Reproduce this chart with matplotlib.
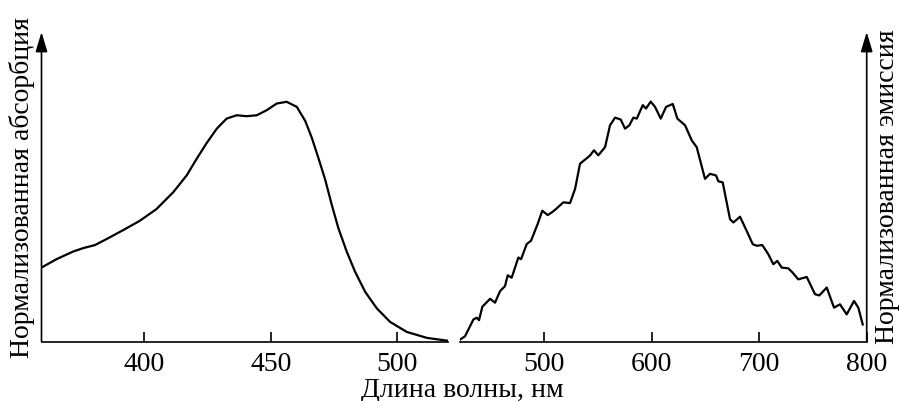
import numpy as np
import matplotlib
matplotlib.use("Agg")
import matplotlib.pyplot as plt

plt.rcParams.update({"font.family": ["Liberation Serif", "DejaVu Serif"], "font.size": 20})

# absorption (left panel), normalised
abs_nm = [360, 365.4, 372.0, 375.9, 380.6, 385.2, 391.7, 398.3, 404.9, 411.5, 416.8, 420.8,
          424.7, 428.7, 432.6, 436.6, 440.5, 444.5, 448.4, 452.4, 456.3, 460.3, 463.6, 466.2,
          468.8, 471.5, 474.1, 476.7, 480, 483.3, 487.3, 491.9, 497.1, 503.7, 511.7, 520]
abs_val = [0.311, 0.343, 0.375, 0.389, 0.402, 0.427, 0.464, 0.503, 0.552, 0.622, 0.692, 0.762,
           0.827, 0.887, 0.929, 0.943, 0.939, 0.943, 0.964, 0.992, 0.999, 0.978, 0.92, 0.85,
           0.766, 0.675, 0.57, 0.473, 0.375, 0.291, 0.207, 0.138, 0.082, 0.04, 0.015, 0.003]

# emission (right panel), normalised
em_nm = [421.6, 426.2, 429.3, 434, 437.1, 439.2, 442.3, 449.5, 454.1, 458.8, 463.4, 465.9,
         469.6, 475.8, 478.3, 483.6, 487.6, 493.8, 498.1, 503.1, 506.9, 510, 517.7, 523.9,
         528.6, 533.2, 542.5, 546.2, 550.2, 556.5, 561.1, 565.8, 571.1, 575.1, 579.1, 582.8,
         586, 591.6, 594.6, 599, 603, 608.3, 613.3, 619.5, 623.8, 631, 637.2, 641.8, 649.5,
         654.2, 659.8, 661.9, 666, 672.8, 675.9, 682.1, 688.3, 693.9, 697.6, 702.8, 708.4,
         713.1, 716.8, 720.9, 727, 731.1, 736.3, 744.2, 751.9, 755.9, 762.8, 769.6, 775.1,
         781.4, 788.2, 792.2, 796.3]
em_val = [0.008, 0.022, 0.05, 0.092, 0.099, 0.089, 0.145, 0.178, 0.162, 0.21, 0.231, 0.276,
          0.266, 0.35, 0.343, 0.406, 0.42, 0.49, 0.545, 0.527, 0.538, 0.549, 0.58, 0.577,
          0.636, 0.741, 0.775, 0.797, 0.776, 0.81, 0.901, 0.933, 0.925, 0.887, 0.901, 0.933,
          0.929, 0.985, 0.971, 1.0, 0.978, 0.929, 0.978, 0.99, 0.929, 0.901, 0.838, 0.81, 0.678,
          0.699, 0.692, 0.668, 0.663, 0.51, 0.496, 0.52, 0.461, 0.406, 0.399, 0.402, 0.364,
          0.322, 0.336, 0.308, 0.305, 0.287, 0.259, 0.269, 0.197, 0.192, 0.225, 0.141, 0.155,
          0.113, 0.169, 0.141, 0.071]

YTOP = 1.29
fig = plt.figure(figsize=(8.99, 4.02), dpi=100)
axL = fig.add_axes([41.5 / 899, 59.5 / 402, 407 / 899, 309.5 / 402])
axR = fig.add_axes([460 / 899, 59.5 / 402, 406.7 / 899, 309.5 / 402])

axL.plot(abs_nm, abs_val, color="black", lw=1.6)
axL.set_xlim(359.5, 520.2)
axL.set_xticks([400, 450, 500])
axR.plot(em_nm, em_val, color="black", lw=1.6)
axR.set_xlim(421.5, 800)
axR.set_xticks([500, 600, 700, 800])

for ax in (axL, axR):
    ax.set_ylim(0, YTOP)
    ax.set_yticks([])
    ax.patch.set_visible(False)
    for s in ax.spines.values():
        s.set_visible(False)
    ax.spines["bottom"].set_visible(True)
    ax.spines["bottom"].set_linewidth(1.2)
    ax.tick_params(axis="x", direction="in", length=7, width=1.2, pad=7, labelsize=20)

arrow = dict(arrowstyle="-|>,head_length=0.6,head_width=0.18", color="black", lw=1.2,
             shrinkA=0, shrinkB=0)
axL.annotate("", xy=(0, 1), xytext=(0, 0), xycoords="axes fraction", arrowprops=arrow)
axR.annotate("", xy=(1, 1), xytext=(1, 0), xycoords="axes fraction", arrowprops=arrow)

fig.text(22 / 899, 1 - 187 / 402, "Нормализованная абсорбция", rotation=90,
         ha="center", va="center", fontsize=20)
fig.text(888 / 899, 1 - 187 / 402, "Нормализованная эмиссия", rotation=90,
         ha="center", va="center", fontsize=20)
fig.text(462.5 / 899, 5 / 402, "Длина волны, нм", ha="center", va="baseline", fontsize=20)

fig.savefig("out.png", dpi=100)
